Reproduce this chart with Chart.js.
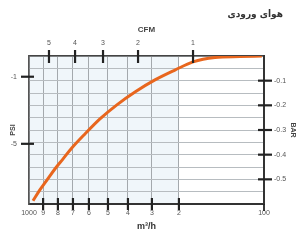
<!DOCTYPE html>
<html>
<head>
<meta charset="utf-8">
<script src="https://cdn.jsdelivr.net/npm/chart.js@4"></script>
<style>
    body { margin: 0; background: #fff; }
    #wrap { position: relative; width: 304px; height: 242px; }
    #title { position: absolute; top: 8px; right: 21px; direction: rtl;
             font: bold 10px "DejaVu Sans Condensed", "DejaVu Sans", sans-serif; color: #333; }
</style>
</head>
<body>
<div id="wrap">
    <canvas id="chart" width="304" height="242"></canvas>
    <div id="title">هوای ورودی</div>
</div>
<script>
"use strict";

// position along the flow axis, 0 = left edge (1000), 100 = right edge (100)
const flowTickPos = [0, 6.0, 12.3, 18.7, 25.5, 33.6, 42.1, 52.3, 63.8, 100];
const flowTickLabels = ["1000", "9", "8", "7", "6", "5", "4", "3", "2", "100"];
const cfmTickPos = [8.5, 19.6, 31.5, 46.4, 69.8];
const cfmTickLabels = ["5", "4", "3", "2", "1"];
const psiTickPos = [-0.084, -0.356];
const psiTickLabels = ["-1", "-5"];
const barTickPos = [-0.1, -0.2, -0.3, -0.4, -0.5];
const barTickLabels = ["-0.1", "-0.2", "-0.3", "-0.4", "-0.5"];

// the curve
const curvePos = [1.7, 4.7, 7.7, 11.1, 14.5, 18.3, 23.8, 30.2, 37.4, 45.1, 53.6, 62.1, 69.8, 79.1, 89.8, 99.1];
const curveBar = [-0.587, -0.542, -0.502, -0.457, -0.417, -0.372, -0.316, -0.255, -0.198, -0.146, -0.097, -0.057, -0.024, -0.006, -0.002, 0];

const tickFont = { family: "'Liberation Sans', Arial, sans-serif", size: 7 };
const titleFont = { family: "'Liberation Sans', Arial, sans-serif", size: 8, weight: "bold" };

// faint blue wash behind the gridded part of the plot
const tint = {
    id: "tint",
    beforeDraw(chart) {
        const { ctx, chartArea: a, scales } = chart;
        const x2 = scales.x.getPixelForValue(flowTickPos[flowTickPos.length - 2]);
        ctx.save();
        ctx.fillStyle = "#f0f6fa";
        ctx.fillRect(a.left, a.top, x2 - a.left, a.bottom - a.top);
        ctx.restore();
    }
};

const tickMarks = {
    id: "tickMarks",
    afterDraw(chart) {
        const { ctx, chartArea: a, scales } = chart;
        const mark = (x1, y1, x2, y2) => {
            ctx.beginPath();
            ctx.moveTo(x1, y1);
            ctx.lineTo(x2, y2);
            ctx.stroke();
        };
        ctx.save();
        ctx.strokeStyle = "#222";
        ctx.lineWidth = 2.2;
        flowTickPos.slice(1, -1).forEach((v) => {
            const x = scales.x.getPixelForValue(v);
            mark(x, a.bottom - 6, x, a.bottom + 6);
        });
        cfmTickPos.forEach((v) => {
            const x = scales.x2.getPixelForValue(v);
            mark(x, a.top - 6, x, a.top + 7);
        });
        psiTickPos.forEach((v) => {
            const y = scales.y.getPixelForValue(v);
            mark(a.left - 8, y, a.left + 5, y);
        });
        barTickPos.forEach((v) => {
            const y = scales.y2.getPixelForValue(v);
            mark(a.right - 6, y, a.right + 8, y);
        });
        ctx.lineWidth = 1.8;
        mark(a.right, a.bottom, a.right, a.bottom + 7);
        ctx.restore();
    }
};

new Chart(document.getElementById("chart"), {
    type: "line",
    data: {
        datasets: [{
            data: curvePos.map((x, i) => ({ x, y: curveBar[i] })),
            yAxisID: "y2",
            borderColor: "#e8661e",
            borderWidth: 3,
            pointRadius: 0,
            cubicInterpolationMode: "monotone",
            fill: false
        }]
    },
    options: {
        responsive: false,
        animation: false,
        devicePixelRatio: 1,
        layout: { padding: 0 },
        plugins: { legend: { display: false }, tooltip: { enabled: false } },
        scales: {
            x: {
                type: "linear", position: "bottom", min: 0, max: 100,
                afterBuildTicks: (s) => { s.ticks = flowTickPos.map((value) => ({ value })); },
                afterFit: (s) => { s.height = 38; },
                ticks: { autoSkip: false, maxRotation: 0, padding: 5, color: "#555", font: tickFont,
                         callback: (v, i) => flowTickLabels[i] },
                grid: { drawTicks: false, color: "#a4a9ad", lineWidth: 1 },
                border: { display: true, color: "#333", width: 2 },
                title: { display: true, text: "m³/h", color: "#333", font: { ...titleFont, size: 9 }, padding: { top: 0, bottom: 10 } }
            },
            x2: {
                type: "linear", axis: "x", position: "top", min: 0, max: 100,
                afterBuildTicks: (s) => { s.ticks = cfmTickPos.map((value) => ({ value })); },
                afterFit: (s) => { s.height = 56; },
                ticks: { autoSkip: false, maxRotation: 0, padding: 9, color: "#555", font: tickFont,
                         callback: (v, i) => cfmTickLabels[i] },
                grid: { drawTicks: false, drawOnChartArea: false },
                border: { display: true, color: "#444", width: 1.5 },
                title: { display: true, text: "CFM", color: "#444", font: titleFont, padding: { top: 25, bottom: 0 } }
            },
            y: {
                type: "linear", position: "left", min: -0.6, max: 0,
                afterBuildTicks: (s) => { s.ticks = psiTickPos.map((value) => ({ value })); },
                afterFit: (s) => { s.width = 29; },
                ticks: { autoSkip: false, padding: 12, color: "#555", font: tickFont,
                         callback: (v, i) => psiTickLabels[i] },
                grid: { drawTicks: false, drawOnChartArea: false },
                border: { display: true, color: "#555", width: 1.5 },
                title: { display: true, text: "PSI", color: "#444", font: { ...titleFont, size: 7 }, padding: { top: 9, bottom: 0 } }
            },
            y2: {
                type: "linear", axis: "y", position: "right", min: -0.6, max: 0,
                afterFit: (s) => { s.width = 40; },
                ticks: { autoSkip: false, stepSize: 0.05, padding: 10, color: "#555", font: tickFont,
                         callback: (v) => {
                             const i = barTickPos.findIndex((b) => Math.abs(b - v) < 0.001);
                             return i >= 0 ? barTickLabels[i] : "";
                         } },
                grid: { drawTicks: false, color: "#b7bcc0", lineWidth: 1 },
                border: { display: true, color: "#333", width: 2 },
                title: { display: true, text: "BAR", color: "#444", font: { ...titleFont, size: 7 }, padding: { top: 7, bottom: 0 } }
            }
        }
    },
    plugins: [tint, tickMarks]
});
</script>
</body>
</html>
